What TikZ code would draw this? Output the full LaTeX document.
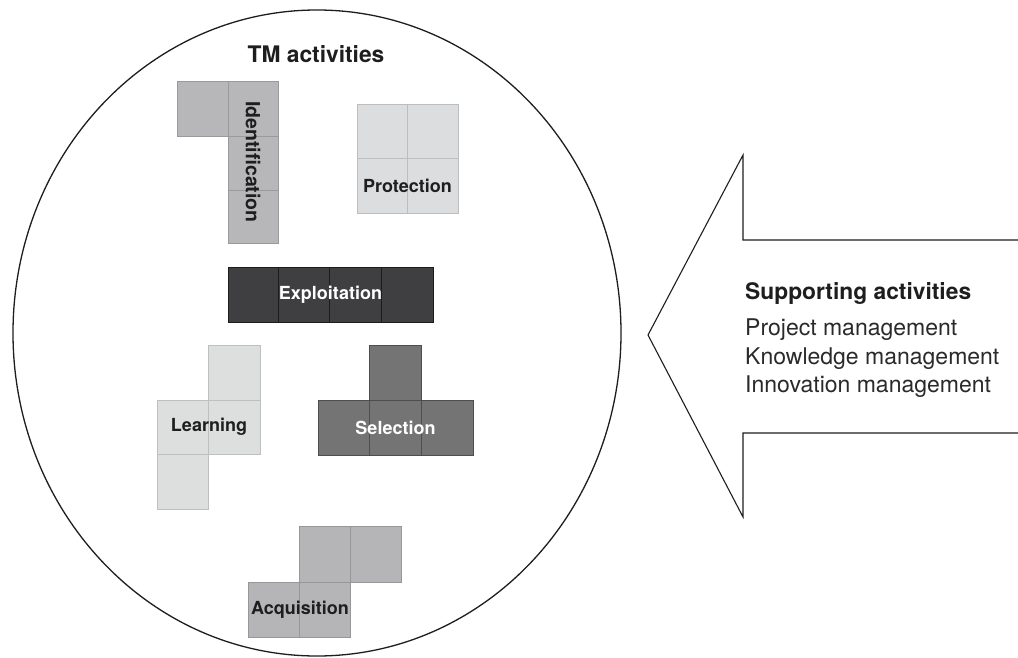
\documentclass[tikz,border=0pt]{standalone}
\usepackage{fontspec}
\setmainfont{TeX Gyre Heros}
\definecolor{ink}{HTML}{1E1E1E}
\definecolor{listink}{HTML}{2A2A2A}
\definecolor{idfill}{HTML}{B7B7B9}\definecolor{idline}{HTML}{9A9A9C}
\definecolor{prfill}{HTML}{DCDDDF}\definecolor{prline}{HTML}{BCBDBF}
\definecolor{exfill}{HTML}{3F3F41}\definecolor{exline}{HTML}{1C1C1C}
\definecolor{lefill}{HTML}{DDDEDE}\definecolor{leline}{HTML}{BEBFBF}
\definecolor{sefill}{HTML}{747475}\definecolor{seline}{HTML}{4E4E50}
\definecolor{acfill}{HTML}{B5B5B7}\definecolor{acline}{HTML}{97979A}
\begin{document}
\begin{tikzpicture}[x=1pt,y=-1pt,
  cell/.style={line width=0.8pt},
  idcell/.style={cell,fill=idfill,draw=idline},
  prcell/.style={cell,fill=prfill,draw=prline},
  excell/.style={cell,fill=exfill,draw=exline},
  lecell/.style={cell,fill=lefill,draw=leline},
  secell/.style={cell,fill=sefill,draw=seline},
  accell/.style={cell,fill=acfill,draw=acline},
  piecelabel/.style={font=\fontsize{18}{20}\selectfont\bfseries,text=ink,inner sep=0pt},
  lightlabel/.style={piecelabel,text=white},
  title/.style={font=\fontsize{22.8}{27}\selectfont\bfseries,text=ink,inner sep=0pt},
  listtext/.style={font=\fontsize{23}{27}\selectfont,text=listink,inner sep=0pt,anchor=base west},
  outline/.style={draw=ink,line width=1.3pt},
  arrowline/.style={draw=ink,line width=1.1pt,line join=miter}]
\useasboundingbox (0,0) rectangle (1018,658);
\fill[white] (0,0) rectangle (1018,658);

% the TM activities area
\draw[outline] (317,333) ellipse [x radius=304, y radius=323];
\node[title,anchor=base] (tmtitle) at (316,63) {TM activities};

% Identification piece
\foreach \a/\b/\c/\d in {177/81/228/136, 228/81/278/136, 228/136/278/190, 228/190/278/243}
  \draw[idcell] (\a,\b) rectangle (\c,\d);
\node[piecelabel,font=\fontsize{19.5}{22}\selectfont\bfseries,rotate=-90] (ident) at (253,162) {Identification};

% Protection piece
\foreach \a/\b/\c/\d in {357/104/407/158, 407/104/458/158, 357/158/407/213, 407/158/458/213}
  \draw[prcell] (\a,\b) rectangle (\c,\d);
\node[piecelabel] (prot) at (407.5,185.5) {Protection};

% Exploitation piece
\foreach \a/\b/\c/\d in {228/267/278/322, 278/267/329/322, 329/267/381/322, 381/267/433/322}
  \draw[excell] (\a,\b) rectangle (\c,\d);
\node[lightlabel] (expl) at (330.5,294.5) {Exploitation};

% Learning piece
\foreach \a/\b/\c/\d in {208/345/260/400, 157/400/208/454, 208/400/260/454, 157/454/208/509}
  \draw[lecell] (\a,\b) rectangle (\c,\d);
\node[piecelabel] (learn) at (209,427) {Learning};

% Selection piece
\foreach \a/\b/\c/\d in {369/345/421/400, 318/400/369/455, 369/400/421/455, 421/400/473/455}
  \draw[secell] (\a,\b) rectangle (\c,\d);
\node[lightlabel] (sel) at (395.5,427.5) {Selection};

% Acquisition piece
\foreach \a/\b/\c/\d in {299/526/350/582, 350/526/401/582, 248/582/299/637, 299/582/350/637}
  \draw[accell] (\a,\b) rectangle (\c,\d);
\node[piecelabel] (acq) at (300,609.5) {Acquisition};

% the supporting activities arrow, open at the right edge
\coordinate (tip) at (648,335);
\coordinate (shafttop) at (1019,240);
\coordinate (shaftbot) at (1019,433);
\draw[arrowline] (shafttop) -- (743,240) -- (743,155) -- (tip)
  -- (743,517) -- (743,433) -- (shaftbot);

\node[listtext,font=\fontsize{22.8}{27}\selectfont\bfseries,text=ink] (suphead) at (745,299) {Supporting activities};
\node[listtext] (proj) at (745,335.5) {Project management};
\node[listtext] (know) at (745,364) {Knowledge management};
\node[listtext] (inno) at (745,392.5) {Innovation management};
\end{tikzpicture}
\end{document}
